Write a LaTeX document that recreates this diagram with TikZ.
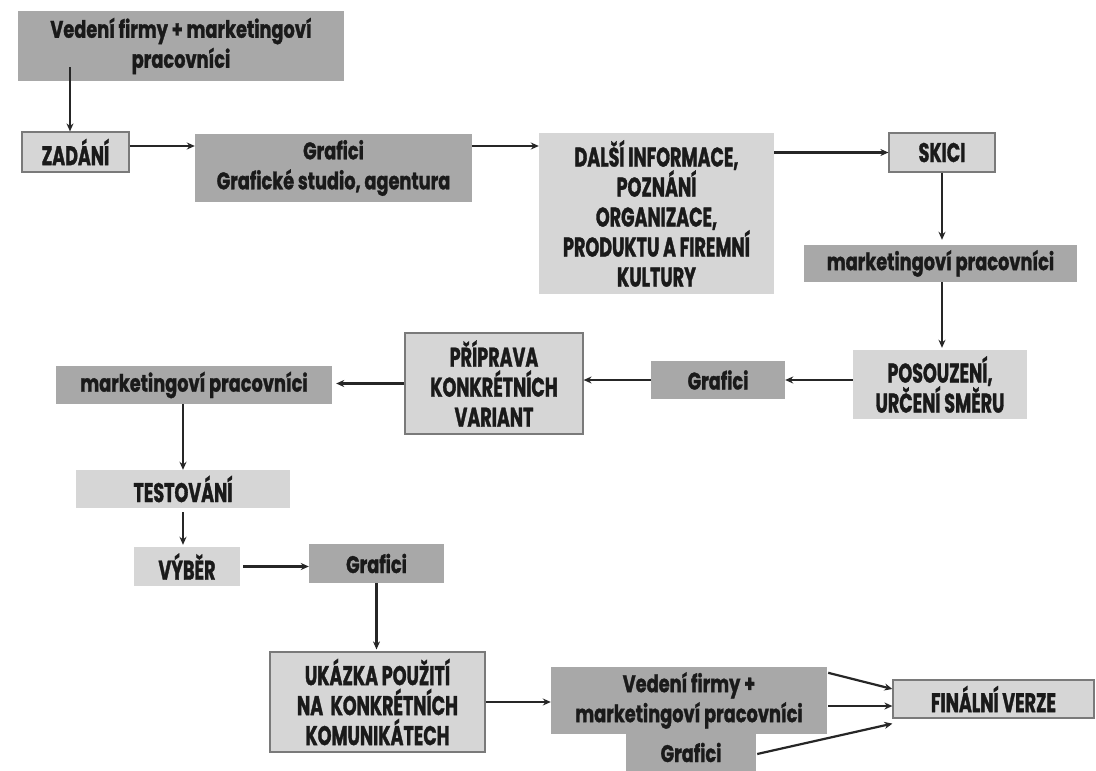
\documentclass[tikz,border=0pt]{standalone}
\usepackage{fontspec}
\setmainfont{Poppins}[FakeStretch=0.74, BoldFeatures={FakeBold=1.2}]
\newfontfamily\capsfont{Poppins}[FakeStretch=0.65, BoldFeatures={FakeBold=1.2}]
\usetikzlibrary{arrows.meta,calc}
\definecolor{boxdark}{HTML}{A8A8A8}
\definecolor{boxlight}{HTML}{D6D6D6}
\definecolor{boxline}{HTML}{7A7A7A}
\definecolor{inktext}{HTML}{1A1A1A}
\tikzset{
  x=1pt,y=-1pt,
  base/.style={rectangle, inner sep=0pt, align=center, text=inktext,
    font=\bfseries\fontsize{24}{30}\selectfont},
  caps/.style={font=\capsfont\bfseries\fontsize{27}{30}\selectfont},
  dark/.style={base, fill=boxdark},
  light/.style={base, fill=boxlight},
  lightb/.style={base, fill=boxlight, draw=boxline, line width=1.2pt},
  arr/.style={line width=2.2pt, draw=black!85, -{Stealth[length=8pt,width=7pt]}},
}
\begin{document}
\begin{tikzpicture}
\useasboundingbox[fill=white] (0,0) rectangle (1096,771);
% boxes
\node[dark, minimum width=326, minimum height=70] (T) at (181,46) {Vedení firmy + marketingoví\\pracovníci};
\node[lightb, caps, minimum width=107, minimum height=40] (Z) at (75.5,152) {ZADÁNÍ};
\node[dark, minimum width=277, minimum height=68] (G1) at (333.5,168) {Grafici\\Grafické studio, agentura};
\node[light, caps, minimum width=235, minimum height=161] (D) at (656.5,213.5) {DALŠÍ INFORMACE,\\POZNÁNÍ\\ORGANIZACE,\\PRODUKTU A FIREMNÍ\\KULTURY};
\node[lightb, caps, minimum width=106, minimum height=39] (S) at (942,152.5) {SKICI};
\node[dark, minimum width=273, minimum height=37] (M1) at (940.5,263.5) {marketingoví pracovníci};
\node[light, caps, minimum width=174, minimum height=69] (P) at (940,384.5) {POSOUZENÍ,\\URČENÍ SMĚRU};
\node[dark, minimum width=134, minimum height=38] (G2) at (718,380) {Grafici};
\node[lightb, caps, minimum width=178, minimum height=101] (PR) at (494,383.5) {PŘÍPRAVA\\KONKRÉTNÍCH\\VARIANT};
\node[dark, minimum width=276, minimum height=38] (M2) at (194,385) {marketingoví pracovníci};
\node[light, caps, minimum width=214, minimum height=38] (TE) at (183,489) {TESTOVÁNÍ};
\node[light, caps, minimum width=106, minimum height=39] (VY) at (187,566.5) {VÝBĚR};
\node[dark, minimum width=135, minimum height=39] (G3) at (376.5,563.5) {Grafici};
\node[lightb, caps, minimum width=215, minimum height=100] (U) at (377.5,702) {UKÁZKA POUŽITÍ\\NA~ KONKRÉTNÍCH\\KOMUNIKÁTECH};
\node[dark, minimum width=276, minimum height=67] (V2) at (689,700.5) {Vedení firmy +\\marketingoví pracovníci};
\node[dark, minimum width=130, minimum height=37] (G4) at (691,752.5) {Grafici};
\node[lightb, caps, minimum width=201, minimum height=38] (F) at (993.5,699) {FINÁLNÍ VERZE};
% connectors
\coordinate (a1) at (70,67);
\draw[arr] (a1) -- (a1 |- Z.north);
\draw[arr] ([yshift=6pt]Z.east) -- ([yshift=6pt]Z.east -| G1.west);
\draw[arr] ([yshift=22pt]G1.east) -- ([yshift=22pt]G1.east -| D.west);
\draw[arr] (S.west -| D.east) -- (S.west);
\draw[arr, shorten >=5pt] (S.south) -- (S.south |- M1.north);
\draw[arr, shorten >=2pt] (M1.south -| S.south) -- (P.north -| S.south);
\draw[arr] (P.west |- G2.east) -- (G2.east);
\draw[arr] (G2.west) -- (G2.west -| PR.east);
\draw[arr, shorten >=4pt] (PR.west) -- (PR.west -| M2.east);
\draw[arr] (TE.north |- M2.south) -- (TE.north);
\draw[arr, shorten <=4pt, shorten >=2pt] (TE.south) -- (TE.south |- VY.north);
\draw[arr, shorten <=3pt] (VY.east) -- (VY.east -| G3.west);
\draw[arr, shorten >=2pt] (G3.south) -- (G3.south |- U.north);
\draw[arr] (U.east) -- (U.east -| V2.west);
\draw[arr] ([xshift=1pt,yshift=-6pt]V2.north east) -- ([yshift=10pt]F.west);
\draw[arr] ([xshift=1pt,yshift=-5.5pt]V2.east) -- ([yshift=-7pt]F.west);
\draw[arr] ([xshift=1pt,yshift=-1.5pt]G4.east) -- ([yshift=-5pt]F.south west);
\end{tikzpicture}
\end{document}
